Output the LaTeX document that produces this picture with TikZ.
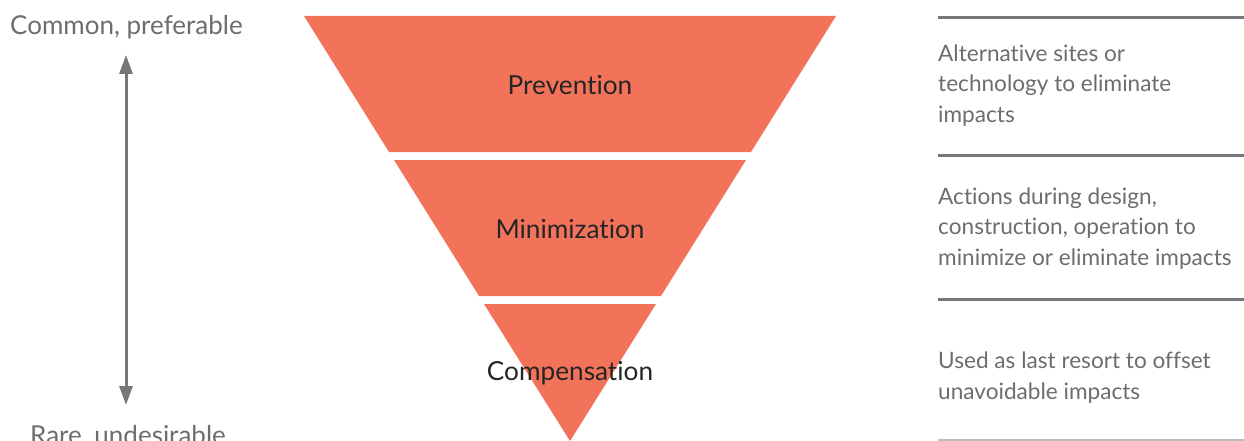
\documentclass[tikz,border=0pt]{standalone}
\usepackage{fontspec}
\setmainfont{Lato}[Ligatures={NoCommon}]
\usetikzlibrary{arrows.meta}
\definecolor{coral}{HTML}{F2725A}
\definecolor{graytxt}{HTML}{6D6D71}
\definecolor{darktxt}{HTML}{252525}
\definecolor{rulegray}{HTML}{77777B}
\definecolor{rulelight}{HTML}{BDBDC0}
\tikzset{
  band/.style={fill=coral},
  bandlabel/.style={text=darktxt, font=\fontsize{26.2}{30}\selectfont, inner sep=0pt, anchor=base},
  sidelabel/.style={text=graytxt, font=\fontsize{26}{30}\selectfont, inner sep=0pt, anchor=base west},
  desc/.style={text=graytxt, font=\fontsize{22.6}{30.5}\selectfont, inner sep=0pt, anchor=base west, align=left},
  rulestyle/.style={draw=rulegray, line width=3pt},
  scalearrow/.style={draw=rulegray, line width=3pt, {Triangle[width=13pt,length=19pt]}-{Triangle[width=13pt,length=19pt]}}
}
\begin{document}
\begin{tikzpicture}[x=1pt,y=-1pt]
\useasboundingbox (0,0) rectangle (1244,441);
% bands
\fill[band] (304,16) -- (836,16) -- (751,152) -- (389,152) -- cycle;
\fill[band] (394,160) -- (746,160) -- (661,296) -- (479,296) -- cycle;
\fill[band] (484,304) -- (656,304) -- (570,441) -- cycle;
\node[bandlabel] (prev) at (570,95) {Prevention};
\node[bandlabel] (mini) at (570,238) {Minimization};
\node[bandlabel] (comp) at (570,380) {Compensation};
% left scale
\node[sidelabel] (common) at (10,35) {Common, preferable};
\node[sidelabel] (rare) at (30,444) {Rare, undesirable};
\coordinate (atop) at (126,55);
\coordinate (abot) at (126,405);
\draw[scalearrow] (atop) -- (abot);
% right rules
\coordinate (r1a) at (938,17.5); \coordinate (r1b) at (1244,17.5);
\coordinate (r2a) at (938,155.5); \coordinate (r2b) at (1244,155.5);
\coordinate (r3a) at (938,299.5); \coordinate (r3b) at (1244,299.5);
\coordinate (r4a) at (938,440); \coordinate (r4b) at (1244,440);
\draw[rulestyle] (r1a) -- (r1b);
\draw[rulestyle] (r2a) -- (r2b);
\draw[rulestyle] (r3a) -- (r3b);
\draw[draw=rulelight, line width=1.5pt] (r4a) -- (r4b);
% descriptions (anchor = baseline of last line)
\node[desc] (d1) at (938,122) {Alternative sites or\\technology to eliminate\\impacts};
\node[desc] (d2) at (938,265) {Actions during design,\\construction, operation to\\minimize or eliminate impacts};
\node[desc] (d3) at (938,399) {Used as last resort to offset\\unavoidable impacts};
\end{tikzpicture}
\end{document}
